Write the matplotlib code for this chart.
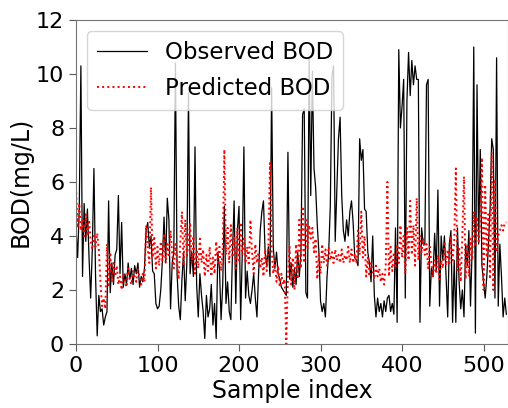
import numpy as np
import matplotlib
matplotlib.use('Agg')
import matplotlib.pyplot as plt

# values at every second sample index
step = 2
observed = [
    4.3, 3.2, 5.0, 10.3, 2.5, 5.2, 3.8, 5.0, 3.2, 1.7,
    3.5, 6.5, 2.5, 0.3, 1.8, 1.2, 1.3, 0.7, 1.0, 1.2,
    5.3, 1.9, 3.0, 2.2, 3.3, 3.5, 5.5, 2.6, 4.5, 2.1,
    2.6, 2.2, 3.0, 2.4, 2.8, 2.2, 2.9, 2.6, 3.0, 2.1,
    2.5, 2.3, 2.8, 4.2, 4.5, 3.6, 4.0, 2.7, 2.6, 1.5,
    1.3, 1.4, 2.0, 3.1, 4.7, 3.0, 5.4, 4.6, 1.3, 3.0,
    3.4, 10.4, 2.6, 1.4, 0.9, 2.4, 3.4, 1.6, 3.0, 9.3,
    2.6, 3.4, 2.5, 7.3, 2.2, 1.0, 2.6, 1.8, 1.2, 0.2,
    1.8, 1.0, 1.3, 2.2, 0.7, 1.5, 0.2, 3.4, 2.8, 0.9,
    2.2, 5.1, 1.5, 2.3, 1.2, 0.9, 3.4, 5.3, 1.5, 4.2,
    5.1, 0.9, 3.4, 7.3, 1.7, 2.7, 1.8, 1.5, 2.0, 2.6,
    1.7, 1.0, 2.6, 4.2, 4.9, 5.3, 3.4, 2.9, 3.6, 2.5,
    9.5, 3.6, 2.8, 3.4, 2.6, 2.4, 2.1, 2.0, 1.9, 1.8,
    7.1, 2.4, 3.0, 2.1, 2.8, 2.2, 3.4, 2.5, 3.4, 8.5,
    8.7, 1.9, 1.7, 10.6, 5.5, 10.1, 6.5, 5.8, 4.4, 3.4,
    1.6, 1.2, 1.5, 1.0, 2.5, 3.4, 5.1, 9.9, 10.3, 3.8,
    5.7, 7.6, 8.4, 5.5, 4.2, 3.8, 4.6, 4.0, 4.9, 5.3,
    4.5, 3.2, 3.1, 2.9, 7.6, 6.8, 7.2, 5.0, 4.9, 3.4,
    3.0, 2.3, 4.0, 1.8, 1.0, 1.7, 1.2, 1.5, 1.0, 1.6,
    1.2, 1.7, 1.8, 1.2, 1.5, 1.1, 4.3, 0.8, 10.9, 8.0,
    8.8, 9.8, 1.7, 9.0, 10.8, 9.2, 10.5, 9.6, 10.3, 9.8,
    9.8, 0.8, 4.3, 3.7, 3.7, 9.6, 9.8, 1.4, 2.8, 2.5,
    4.1, 2.7, 5.7, 1.4, 4.0, 3.1, 4.0, 2.5, 1.0, 3.7,
    4.2, 0.8, 3.1, 0.8, 4.3, 2.3, 1.3, 2.0, 1.0, 3.7,
    2.9, 4.2, 1.4, 3.5, 11.0, 0.4, 9.6, 3.7, 7.2, 2.9,
    2.3, 1.7, 2.5, 3.7, 5.0, 7.6, 7.2, 1.7, 10.6, 1.4,
    3.7, 2.5, 1.0, 1.7, 1.1,
]
predicted = [
    5.8, 4.3, 5.2, 4.2, 4.6, 3.9, 4.8, 4.0, 4.6, 3.8,
    3.5, 4.0, 3.6, 4.1, 3.5, 2.3, 1.4, 1.7, 1.3, 3.7,
    2.1, 3.4, 2.3, 3.0, 2.5, 2.9, 2.2, 2.5, 2.0, 2.6,
    2.3, 2.1, 2.8, 2.4, 2.2, 2.7, 2.5, 2.3, 2.8, 2.4,
    2.2, 2.6, 2.3, 4.4, 3.5, 3.0, 5.8, 3.2, 4.0, 2.8,
    3.6, 2.9, 3.8, 3.1, 4.1, 3.0, 3.7, 3.2, 4.2, 3.3,
    2.8, 3.7, 3.0, 2.4, 3.8, 4.9, 2.9, 4.6, 3.2, 3.8,
    4.5, 3.0, 4.0, 2.6, 3.5, 2.8, 3.9, 3.0, 3.5, 2.5,
    3.3, 2.7, 3.6, 2.5, 3.2, 2.6, 3.8, 3.0, 3.6, 2.7,
    3.5, 7.2, 3.3, 4.3, 3.0, 4.4, 3.2, 4.0, 2.8, 4.3,
    3.1, 4.5, 3.3, 3.9, 3.0, 3.6, 2.9, 4.6, 3.4, 2.6,
    3.7, 3.0, 3.4, 2.8, 3.2, 2.5, 3.5, 2.7, 3.6, 6.7,
    3.5, 2.6, 3.1, 2.3, 2.9, 2.1, 2.6, 2.2, 2.4, 0.0,
    2.5, 3.6, 2.2, 3.2, 2.0, 3.7, 2.4, 4.6, 2.8, 5.1,
    3.0, 4.6, 3.5, 4.4, 3.9, 4.3, 3.4, 3.9, 2.4, 3.3,
    2.6, 3.7, 3.0, 3.5, 2.9, 3.6, 3.1, 3.4, 3.0, 3.5,
    3.1, 3.3, 3.0, 3.5, 3.0, 3.3, 3.1, 3.6, 3.0, 3.5,
    3.0, 3.3, 3.0, 4.2, 3.3, 4.9, 3.2, 4.0, 2.5, 3.2,
    2.5, 3.0, 2.7, 2.4, 2.9, 2.5, 2.8, 2.3, 2.6, 2.2,
    2.9, 6.0, 2.5, 3.6, 2.7, 3.4, 2.8, 3.7, 3.0, 4.4,
    3.2, 4.0, 2.6, 4.3, 3.1, 5.3, 3.3, 4.4, 2.9, 5.4,
    3.1, 4.0, 3.4, 3.9, 3.3, 3.7, 2.8, 3.6, 3.0, 2.5,
    3.1, 2.6, 3.3, 2.4, 3.1, 2.8, 3.8, 2.9, 3.5, 3.0,
    4.0, 3.1, 3.8, 6.5, 2.7, 3.6, 2.3, 4.0, 6.2, 2.4,
    3.7, 2.5, 3.9, 3.1, 4.9, 3.6, 4.7, 3.8, 4.5, 6.9,
    2.0, 5.9, 3.2, 4.8, 2.4, 7.1, 2.0, 6.1, 3.4, 4.0,
    4.2, 4.4, 4.2, 4.5, 4.5,
]

sample = np.arange(len(observed)) * step

fig = plt.figure(figsize=(5.08, 4.08), dpi=100)
ax = fig.add_axes([0.1496, 0.157, 0.8504, 0.794])

ax.plot(sample, observed, color='black', lw=0.9, label='Observed BOD')
ax.plot(sample, predicted, color='red', lw=1.4, ls=':', label='Predicted BOD')

ax.set_xlim(0, 530)
ax.set_ylim(0, 12)
ax.set_xticks(range(0, 501, 100))
ax.set_yticks(range(0, 13, 2))
ax.tick_params(labelsize=16, colors='0.35', labelcolor='black', length=5)
for s in ax.spines.values():
    s.set_color('0.45')
ax.set_xlabel('Sample index', fontsize=17, labelpad=2)
ax.set_ylabel('BOD(mg/L)', fontsize=17, labelpad=2)

ax.legend(loc='upper left', fontsize=16.5, handlelength=2.2,
          handletextpad=0.8, labelspacing=0.6,
          borderaxespad=0.5, framealpha=0.8)

fig.savefig('out.png', dpi=100)
